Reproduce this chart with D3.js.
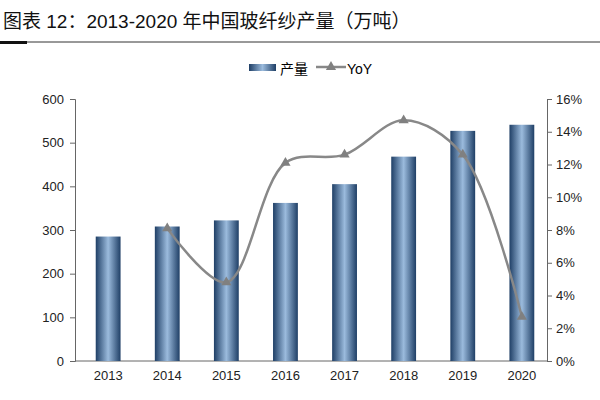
<!DOCTYPE html>
<html><head><meta charset="utf-8">
<script src="https://cdn.jsdelivr.net/npm/d3@7"></script>
<style>body{margin:0;background:#fff;font-family:Arial,"Liberation Sans","Noto Sans CJK SC",sans-serif}</style>
</head><body><svg id="c" width="600" height="400"></svg>
<script>
var years = ["2013","2014","2015","2016","2017","2018","2019","2020"];
var output = [285,308,322,362,405,468,527,541];
var yoyYears = ["2014","2015","2016","2017","2018","2019","2020"];
var yoy = [8.1,4.8,12.1,12.6,14.7,12.6,2.7];

var svg = d3.select("#c");
var font = "Arial,'Liberation Sans','Noto Sans CJK SC',sans-serif";

svg.append("text").attr("x",3).attr("y",28).attr("font-size",19).attr("fill","#111")
  .style("font-family",font).text("图表 12：2013-2020 年中国玻纤纱产量（万吨）");
svg.append("line").attr("x1",0).attr("x2",600).attr("y1",42).attr("y2",42).attr("stroke","#333").attr("stroke-width",1);
svg.append("rect").attr("x",0).attr("y",41).attr("width",27).attr("height",3).attr("fill","#111");

var defs = svg.append("defs");
var g = defs.append("linearGradient").attr("id","bg").attr("x1","0").attr("x2","1").attr("y1","0").attr("y2","0");
g.append("stop").attr("offset","0%").attr("stop-color","#1f3f66");
g.append("stop").attr("offset","50%").attr("stop-color","#9bbbdd");
g.append("stop").attr("offset","100%").attr("stop-color","#1f3f66");

var x = d3.scaleBand().domain(years).range([78,552]).paddingInner(0.58).paddingOuter(0.3);
var y = d3.scaleLinear().domain([0,600]).range([361,99]);
var y2 = d3.scaleLinear().domain([0,16]).range([361,99]);

var la = svg.append("g").attr("transform","translate(75,0)")
  .call(d3.axisLeft(y).ticks(6).tickSize(5).tickPadding(6));
var ra = svg.append("g").attr("transform","translate(547,0)")
  .call(d3.axisRight(y2).ticks(8).tickSize(5).tickPadding(4).tickFormat(function(d){return d+"%";}));
var xa = svg.append("g").attr("transform","translate(0,361)")
  .call(d3.axisBottom(x).tickSize(0).tickPadding(10));
xa.select(".domain").attr("d","M75,0H547");
[la,ra,xa].forEach(function(a){
  a.selectAll("text").attr("font-size",13).attr("fill","#222").style("font-family",font);
  a.selectAll("line,path").attr("stroke","#666");
});

svg.append("g").selectAll("rect").data(output).join("rect")
  .attr("x",function(d,i){return x(years[i]);}).attr("width",x.bandwidth())
  .attr("y",function(d){return y(d);}).attr("height",function(d){return 361-y(d);})
  .attr("fill","url(#bg)");

var line = d3.line().x(function(d,i){return x(yoyYears[i])+x.bandwidth()/2;})
  .y(function(d){return y2(d);}).curve(d3.curveCatmullRom.alpha(0.5));
svg.append("path").datum(yoy).attr("d",line).attr("fill","none").attr("stroke","#888").attr("stroke-width",2.5);
var tri = d3.symbol().type(d3.symbolTriangle).size(45);
svg.append("g").selectAll("path").data(yoy).join("path").attr("d",tri)
  .attr("transform",function(d,i){return "translate("+(x(yoyYears[i])+x.bandwidth()/2)+","+y2(d)+")";})
  .attr("fill","#808080");

// legend
svg.append("rect").attr("x",249).attr("y",64).attr("width",27).attr("height",7).attr("fill","url(#bg)");
svg.append("text").attr("x",280).attr("y",74).attr("font-size",14).style("font-family",font).text("产量");
svg.append("line").attr("x1",316).attr("x2",346).attr("y1",67).attr("y2",67).attr("stroke","#888").attr("stroke-width",2.5);
svg.append("path").attr("d",tri).attr("transform","translate(331,67)").attr("fill","#808080");
svg.append("text").attr("x",347).attr("y",74).attr("font-size",14).style("font-family",font).text("YoY");
</script></body></html>
